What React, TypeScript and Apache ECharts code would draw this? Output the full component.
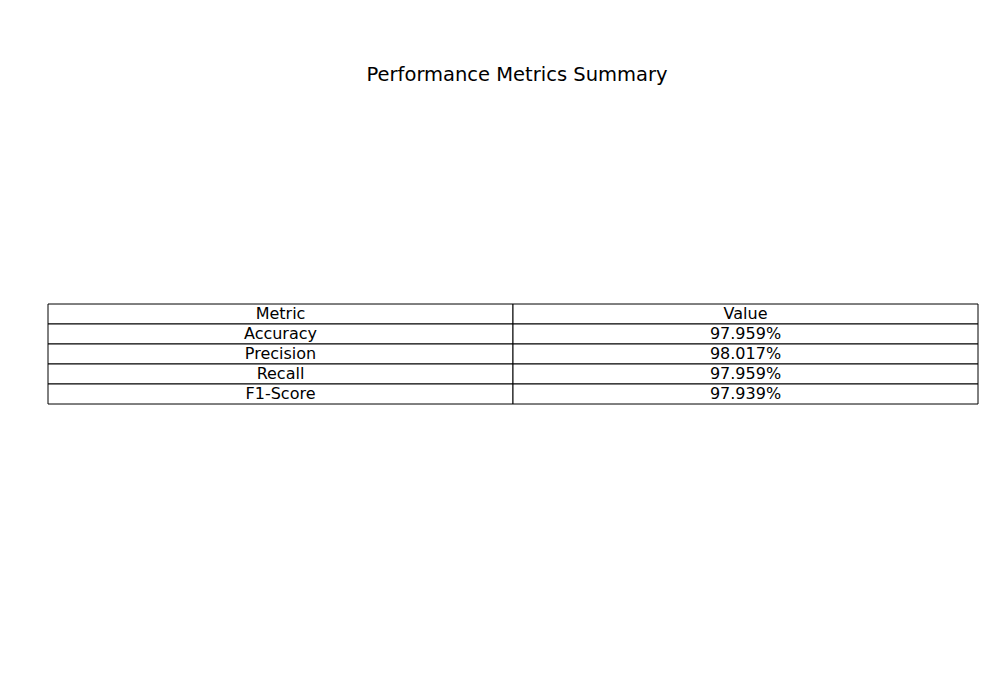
import React, { useEffect, useRef } from 'react';
import * as echarts from 'echarts';

const headers = ['Metric', 'Value'];
const metrics = ['Accuracy', 'Precision', 'Recall', 'F1-Score'];
const values = ['97.959%', '98.017%', '97.959%', '97.939%'];

const rows: string[][] = [headers, ...metrics.map((m, i) => [m, values[i]])];

const App: React.FC = () => {
  const chartRef = useRef<HTMLDivElement>(null);

  useEffect(() => {
    if (!chartRef.current) return;
    const chart = echarts.init(chartRef.current, undefined, { renderer: 'svg' });

    const cells: Array<[number, number, string]> = [];
    rows.forEach((row, r) => row.forEach((text, c) => cells.push([c, r, text])));

    chart.setOption({
      animation: false,
      title: {
        text: 'Performance Metrics Summary',
        left: 512,
        textAlign: 'center',
        top: 59,
        textStyle: { fontFamily: 'DejaVu Sans', fontSize: 19.5, fontWeight: 'normal', color: '#000' },
      },
      grid: { left: 48, right: 22, top: 304, height: 100 },
      xAxis: { type: 'value', min: 0, max: 2, show: false },
      yAxis: { type: 'category', data: rows.map((_, i) => i), inverse: true, show: false },
      series: [
        {
          type: 'custom',
          data: cells,
          renderItem: (params: any, api: any) => {
            const c = api.value(0);
            const r = api.value(1);
            const text = rows[r][c];
            const [x0, yc] = api.coord([c, r]);
            const [x1] = api.coord([c + 1, r]);
            const h = api.size([1, 1])[1];
            return {
              type: 'group',
              children: [
                {
                  type: 'rect',
                  shape: { x: x0, y: yc - h / 2, width: x1 - x0, height: h },
                  style: { fill: '#fff', stroke: '#000', lineWidth: 1 },
                },
                {
                  type: 'text',
                  style: {
                    x: (x0 + x1) / 2,
                    y: yc - 1,
                    text,
                    align: 'center',
                    verticalAlign: 'middle',
                    fill: '#000',
                    fontSize: 16,
                    fontFamily: 'DejaVu Sans',
                  },
                },
              ],
            };
          },
        },
      ],
    });

    return () => chart.dispose();
  }, []);

  return (
    <div
      ref={chartRef}
      style={{ position: 'fixed', left: 0, top: 0, width: 1000, height: 700, background: '#fff' }}
    />
  );
};

export default App;
